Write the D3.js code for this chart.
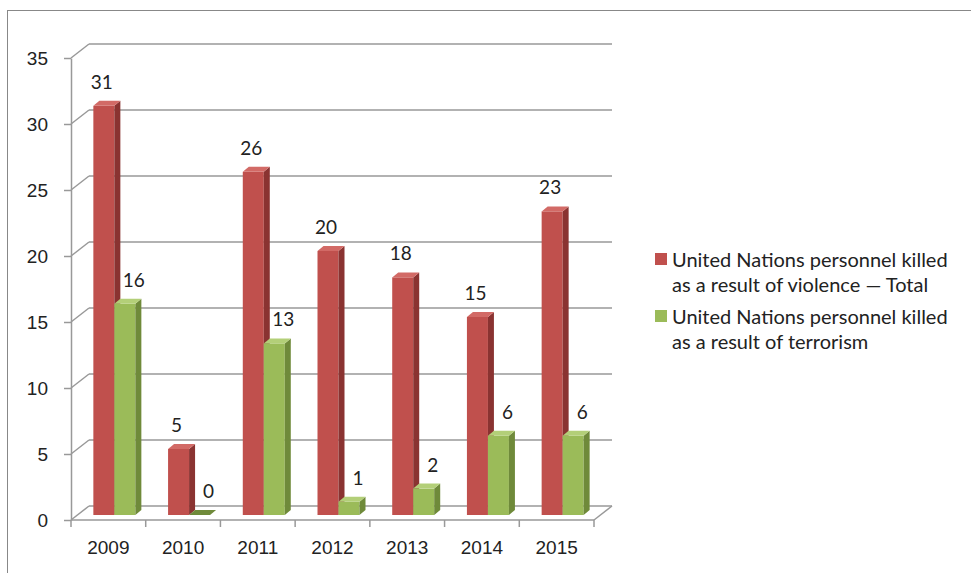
<!DOCTYPE html>
<html>
<head>
<meta charset="utf-8">
<script src="https://cdn.jsdelivr.net/npm/d3@7"></script>
<style>
  body { margin: 0; background: #fff; }
  svg { display: block; font-family: Lato, 'Open Sans', sans-serif; }
</style>
</head>
<body>
<svg width="971" height="573"></svg>
<script>
  const years = ['2009', '2010', '2011', '2012', '2013', '2014', '2015']
  const totalKilled = [31, 5, 26, 20, 18, 15, 23]
  const terrorismKilled = [16, 0, 13, 1, 2, 6, 6]
  const yTicks = [0, 5, 10, 15, 20, 25, 30, 35]
  const seriesNames = [
    ['United Nations personnel killed', 'as a result of violence \u2014 Total'],
    ['United Nations personnel killed', 'as a result of terrorism']]

  const series = [totalKilled, terrorismKilled]
  const faces = [
    { front: '#c0504d', side: '#8a3331', top: '#d26a66' },
    { front: '#9bbb59', side: '#6f8a3a', top: '#b3cf78' }]
  const labelShift = [-2, 9]

  const svg = d3.select('svg')
  const textColor = '#222'
  const gridColor = '#999'

  // outer chart border (runs off right and bottom)
  svg.append('rect').attr('x', 7.5).attr('y', 10.5)
    .attr('width', 1000).attr('height', 600)
    .attr('fill', 'none').attr('stroke', '#888')

  const x = d3.scaleBand().domain(years).range([71, 594])
  const y = d3.scaleLinear().domain([0, 35]).range([520, 58])

  // depth of the back wall, and of the bars
  const wallDx = 18, wallDy = -14
  const barOx = 6, barOy = -5
  const depthDx = 6, depthDy = -5
  const barW = 21

  // back wall gridlines and side-wall diagonals
  const grid = svg.append('g').attr('stroke', gridColor).attr('stroke-width', 1.5).attr('fill', 'none')
  yTicks.forEach(function (v) {
    grid.append('line')
      .attr('x1', 71 + wallDx).attr('x2', 594 + wallDx)
      .attr('y1', y(v) + wallDy).attr('y2', y(v) + wallDy)
    grid.append('line')
      .attr('x1', 71).attr('x2', 71 + wallDx)
      .attr('y1', y(v)).attr('y2', y(v) + wallDy)
  })
  // floor front edge and right diagonal
  grid.append('line').attr('x1', 71).attr('x2', 594).attr('y1', y(0)).attr('y2', y(0))
  grid.append('line').attr('x1', 594).attr('x2', 594 + wallDx).attr('y1', y(0)).attr('y2', y(0) + wallDy)
  // category boundary ticks
  years.concat(['end']).forEach(function (yr, i) {
    const tx = i < years.length ? x(yr) : x.range()[1]
    grid.append('line').attr('x1', tx).attr('x2', tx).attr('y1', y(0)).attr('y2', y(0) + 7)
  })

  // y axis
  const yAxis = svg.append('g').attr('transform', 'translate(71,0)')
    .call(d3.axisLeft(y).tickValues(yTicks).tickSize(7).tickSizeOuter(0).tickPadding(16))
  yAxis.selectAll('path, line').attr('stroke', gridColor).attr('stroke-width', 1.5)
  yAxis.selectAll('text').attr('font-size', 19).attr('fill', textColor).attr('font-family', null)

  // x axis labels
  const xAxis = svg.append('g').attr('transform', 'translate(0,' + y(0) + ')')
    .call(d3.axisBottom(x).tickSize(0).tickPadding(21))
  xAxis.select('.domain').remove()
  xAxis.selectAll('text').attr('font-size', 19).attr('fill', textColor).attr('font-family', null)

  // 3D columns
  const groupW = barW * 2
  const bars = svg.append('g')
  years.forEach(function (yr, i) {
    series.forEach(function (vals, s) {
      const v = vals[i]
      const x0 = x(yr) + (x.bandwidth() - groupW) / 2 + s * barW + barOx
      const x1 = x0 + barW
      const yTop = y(v) + barOy
      const yBot = y(0) + barOy
      const f = faces[s]
      const g = bars.append('g')
      if (v > 0) {
        g.append('rect').attr('x', x0).attr('y', yTop)
          .attr('width', barW).attr('height', yBot - yTop).attr('fill', f.front)
        g.append('path').attr('fill', f.side)
          .attr('d', d3.line()([[x1, yTop], [x1 + depthDx, yTop + depthDy], [x1 + depthDx, yBot + depthDy], [x1, yBot]]) + 'Z')
      }
      g.append('path').attr('fill', v > 0 ? f.top : f.side)
        .attr('d', d3.line()([[x0, yTop], [x0 + depthDx, yTop + depthDy], [x1 + depthDx, yTop + depthDy], [x1, yTop]]) + 'Z')
      g.append('text')
        .attr('x', (x0 + x1) / 2 + labelShift[s])
        .attr('y', yTop + depthDy - 12)
        .attr('text-anchor', 'middle')
        .attr('font-size', 19).attr('fill', textColor)
        .text(v)
    })
  })

  // legend
  const legend = svg.append('g').attr('class', 'legend')
  seriesNames.forEach(function (lines, s) {
    const top = 253 + s * 57
    legend.append('rect').attr('x', 655).attr('y', top)
      .attr('width', 12).attr('height', 12).attr('fill', faces[s].front)
    lines.forEach(function (line, j) {
      legend.append('text').attr('x', 672).attr('y', top + 14 + j * 24.5)
        .attr('font-size', 20).attr('fill', textColor).text(line)
    })
  })
</script>
</body>
</html>
